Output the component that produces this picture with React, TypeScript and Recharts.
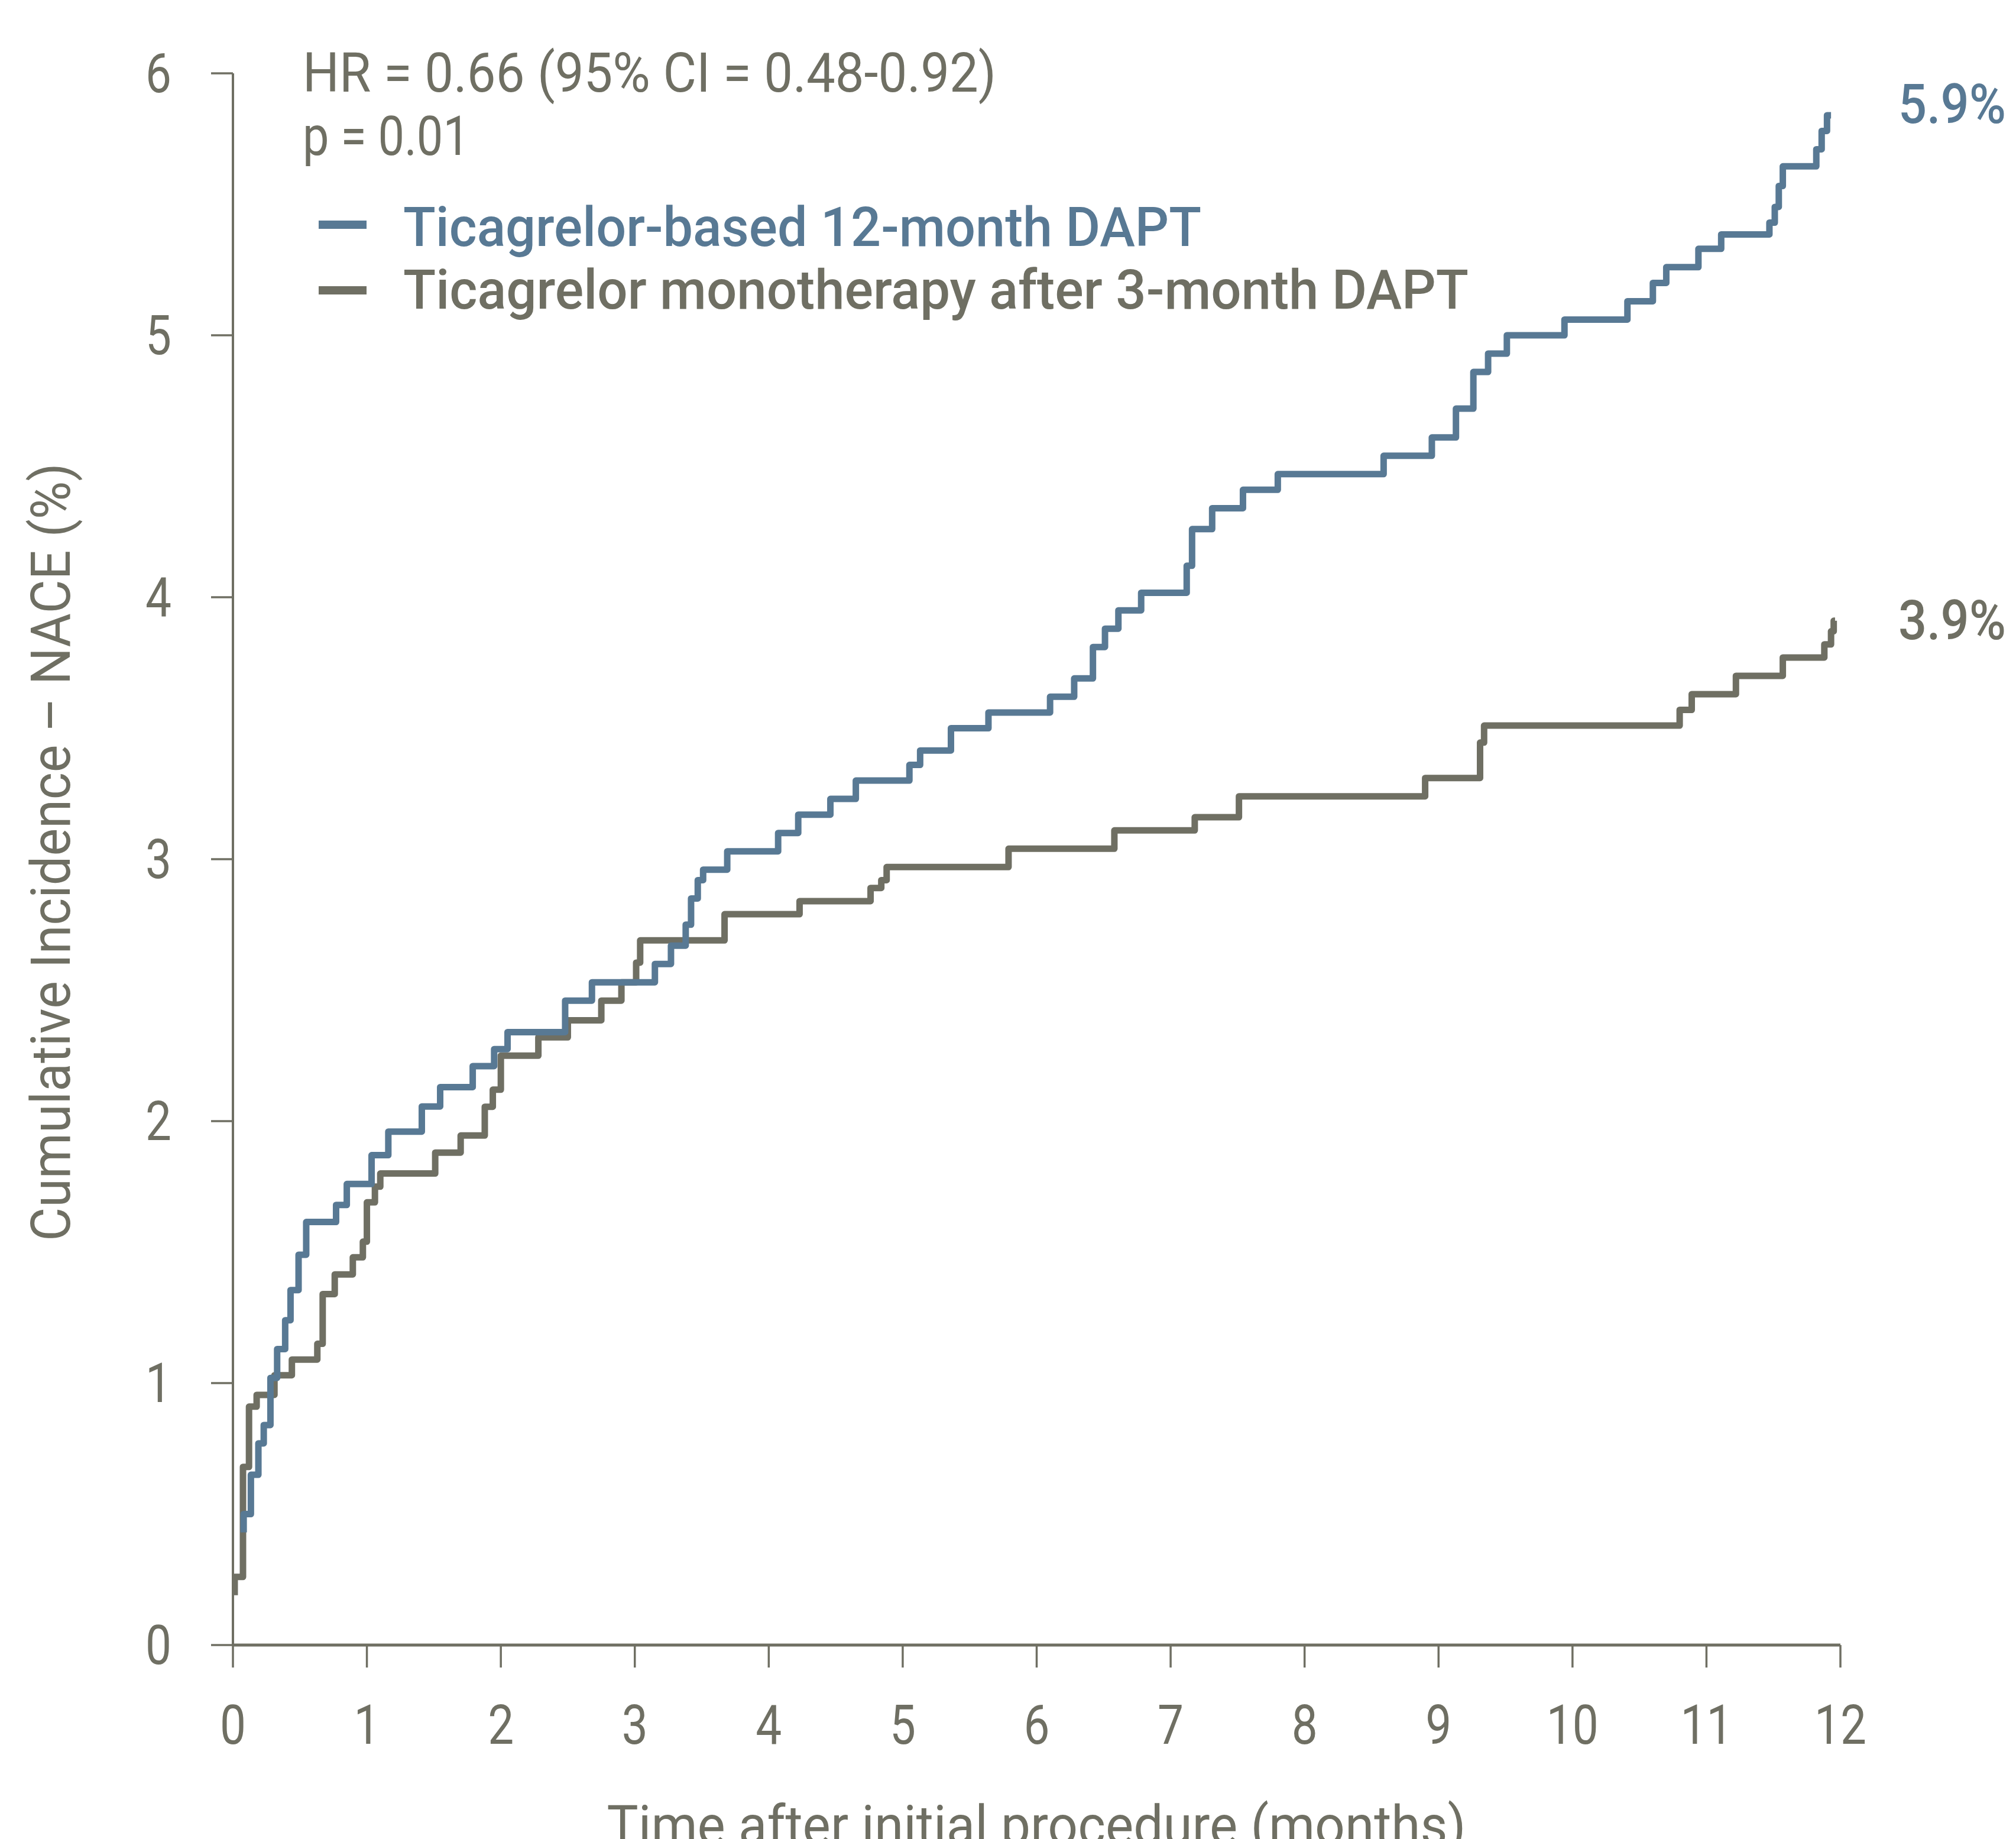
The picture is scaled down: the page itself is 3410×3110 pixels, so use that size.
import { LineChart, Line, XAxis, YAxis } from 'recharts';

const BLUE = '#587994';
const GREY = '#6f6f63';
const FONT = 'Roboto, "Liberation Sans", sans-serif';

const monthTicks = [0, 1, 2, 3, 4, 5, 6, 7, 8, 9, 10, 11, 12];
const pctTicks = [0, 1, 2, 3, 4, 5, 6];

// Ticagrelor-based 12-month DAPT (step points: time of jump, new level)
const daptTime = [
  0.08, 0.08, 0.134, 0.19, 0.23, 0.28, 0.33, 0.39, 0.43, 0.49, 0.547, 0.77, 0.85, 1.035, 1.16,
  1.41, 1.547, 1.79, 1.95, 2.05, 2.48, 2.68, 3.15, 3.27, 3.38, 3.42, 3.47, 3.51, 3.69, 4.07,
  4.22, 4.46, 4.65, 5.05, 5.13, 5.36, 5.64, 6.1, 6.28, 6.42, 6.51, 6.61, 6.78, 7.12, 7.16,
  7.31, 7.54, 7.8, 8.59, 8.95, 9.13, 9.26, 9.37, 9.51, 9.94, 10.41, 10.6, 10.7, 10.94, 11.11,
  11.47, 11.51, 11.54, 11.57, 11.82, 11.86, 11.9, 11.93,
];
const daptValue = [
  0.43, 0.5, 0.65, 0.77, 0.84, 1.02, 1.13, 1.24, 1.355, 1.49, 1.615, 1.68, 1.76, 1.87, 1.96,
  2.056, 2.13, 2.21, 2.275, 2.34, 2.46, 2.53, 2.6, 2.67, 2.75, 2.85, 2.92, 2.96, 3.03, 3.1,
  3.17, 3.23, 3.3, 3.36, 3.415, 3.5, 3.56, 3.62, 3.69, 3.81, 3.88, 3.95, 4.017, 4.12, 4.26,
  4.34, 4.41, 4.47, 4.54, 4.61, 4.72, 4.86, 4.93, 5.0, 5.06, 5.13, 5.2, 5.26, 5.33, 5.385,
  5.43, 5.49, 5.57, 5.645, 5.71, 5.78, 5.84, 5.84,
];

// Ticagrelor monotherapy after 3-month DAPT
const monoTime = [
  0.013, 0.013, 0.075, 0.12, 0.177, 0.31, 0.44, 0.63, 0.67, 0.76, 0.895, 0.97, 1.0, 1.06, 1.1,
  1.51, 1.7, 1.88, 1.94, 2.0, 2.28, 2.5, 2.75, 2.9, 3.01, 3.04, 3.67, 4.23, 4.76, 4.84, 4.88,
  5.79, 6.58, 7.18, 7.51, 8.9, 9.31, 9.34, 10.8, 10.89, 11.22, 11.57, 11.88, 11.93, 11.95, 11.96,
];
const monoValue = [
  0.19, 0.26, 0.68, 0.91, 0.955, 1.03, 1.09, 1.15, 1.34, 1.415, 1.48, 1.54, 1.69, 1.75, 1.8,
  1.88, 1.945, 2.055, 2.12, 2.25, 2.32, 2.385, 2.46, 2.53, 2.605, 2.69, 2.79, 2.84, 2.89, 2.92, 2.97,
  3.04, 3.11, 3.16, 3.24, 3.31, 3.445, 3.51, 3.57, 3.63, 3.7, 3.77, 3.82, 3.87, 3.91, 3.91,
];

const dapt = daptTime.map((t, i) => ({ t, v: daptValue[i] }));
const mono = monoTime.map((t, i) => ({ t, v: monoValue[i] }));

const XTick = (props: any) => {
  const label = String(props.payload.value);
  return (
    <text x={props.x} y={2949} textAnchor="middle" fill={GREY} fontFamily={FONT} fontSize={93}
      textLength={44 * label.length} lengthAdjust="spacingAndGlyphs">
      {label}
    </text>
  );
};

const YTick = (props: any) => {
  const label = String(props.payload.value);
  return (
    <text x={290} y={props.y + 32} textAnchor="end" fill={GREY} fontFamily={FONT} fontSize={93}
      textLength={44 * label.length} lengthAdjust="spacingAndGlyphs">
      {label}
    </text>
  );
};

const T = (p: any) => (
  <text fontFamily={FONT} fontSize={93} lengthAdjust="spacingAndGlyphs" {...p} />
);

export default function App() {
  return (
    <div style={{ position: 'absolute', left: 0, top: 0, width: 3410, height: 3110, background: '#fff' }}>
      <LineChart width={3410} height={3110} margin={{ top: 124, right: 297, bottom: 228, left: 294 }}>
        <XAxis
          dataKey="t"
          type="number"
          domain={[0, 12]}
          ticks={monthTicks}
          height={100}
          tickSize={38}
          axisLine={{ stroke: GREY, strokeWidth: 5 }}
          tickLine={{ stroke: GREY, strokeWidth: 3.5 }}
          tick={<XTick />}
          allowDataOverflow
        />
        <YAxis
          type="number"
          domain={[0, 6]}
          ticks={pctTicks}
          width={100}
          tickSize={37}
          axisLine={{ stroke: GREY, strokeWidth: 4 }}
          tickLine={{ stroke: GREY, strokeWidth: 3.5 }}
          tick={<YTick />}
        />
        <Line data={mono} dataKey="v" type="stepAfter" stroke={GREY} strokeWidth={11}
          strokeLinejoin="round" dot={false} activeDot={false} isAnimationActive={false} />
        <Line data={dapt} dataKey="v" type="stepAfter" stroke={BLUE} strokeWidth={11}
          strokeLinejoin="round" dot={false} activeDot={false} isAnimationActive={false} />
      </LineChart>
      <svg width={3410} height={3110} style={{ position: 'absolute', left: 0, top: 0, pointerEvents: 'none' }}>
        <T x={512} y={155} fill={GREY} textLength={1173}>HR = 0.66 (95% CI = 0.48-0.92)</T>
        <T x={512} y={262} fill={GREY} textLength={282}>p = 0.01</T>
        <line x1={539} x2={620} y1={380} y2={380} stroke={BLUE} strokeWidth={14} />
        <line x1={539} x2={620} y1={491} y2={491} stroke={GREY} strokeWidth={14} />
        <T x={682} y={416} fill={BLUE} fontWeight={500} textLength={1350}>Ticagrelor-based 12-month DAPT</T>
        <T x={682} y={522} fill={GREY} fontWeight={500} textLength={1802}>Ticagrelor monotherapy after 3-month DAPT</T>
        <T x={3211} y={208} fill={BLUE} fontWeight={500} textLength={182}>5.9%</T>
        <T x={3211} y={1081} fill={GREY} fontWeight={500} textLength={182}>3.9%</T>
        <T x={118} y={1441} fill={GREY} textAnchor="middle" textLength={1316}
          transform="rotate(-90, 118, 1441)">Cumulative Incidence – NACE (%)</T>
        <T x={1753} y={3119} fill={GREY} textAnchor="middle" textLength={1453}>Time after initial procedure (months)</T>
      </svg>
    </div>
  );
}
